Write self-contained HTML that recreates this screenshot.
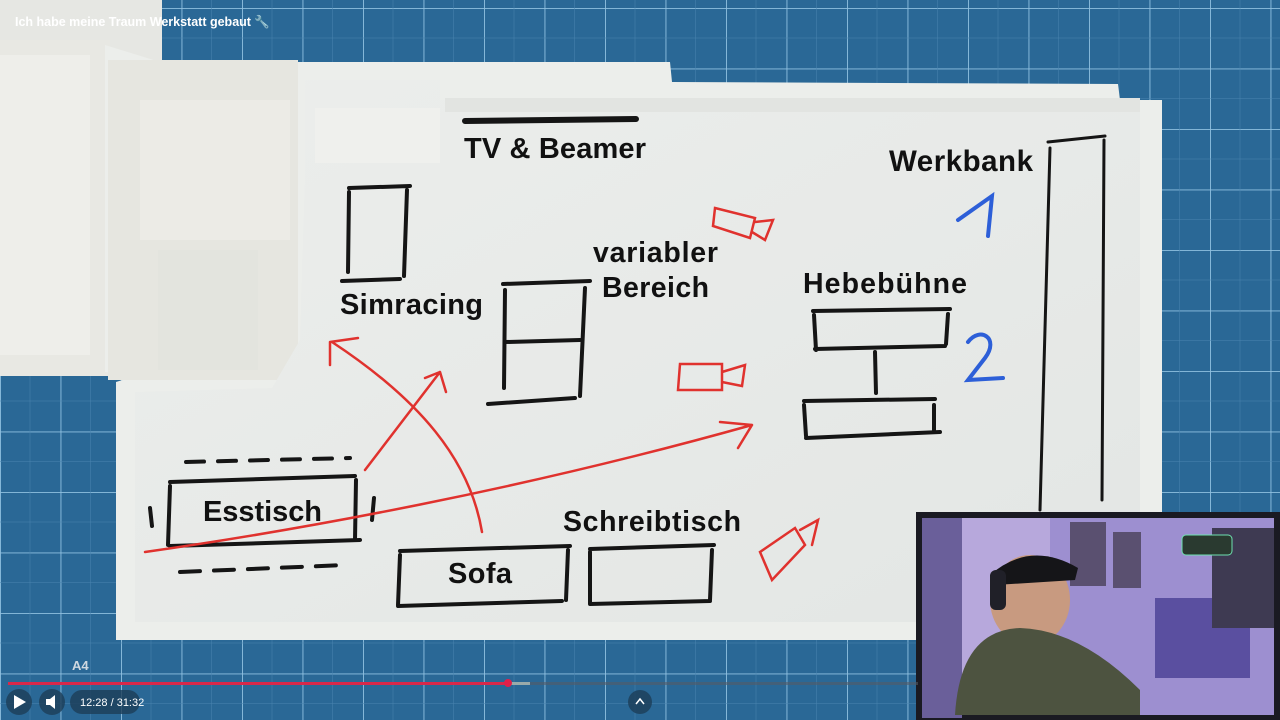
<!DOCTYPE html>
<html><head><meta charset="utf-8"><style>
html,body{margin:0;padding:0;width:1280px;height:720px;overflow:hidden;background:#2b6a98}
svg{display:block}
text{font-family:"Liberation Sans",sans-serif}
</style></head><body>
<svg width="1280" height="720" viewBox="0 0 1280 720" xmlns="http://www.w3.org/2000/svg">
<defs>
<pattern id="g" width="60.5" height="60.5" patternUnits="userSpaceOnUse" x="0" y="8">
<rect width="60.5" height="60.5" fill="#2a6896"/>
<path d="M0 0H60.5M0 0V60.5" stroke="#8fc0e0" stroke-width="1.8"/>
<path d="M30 0V60.5M0 30H60.5" stroke="#4a84b0" stroke-width="0.5"/>
</pattern>
<linearGradient id="fl" x1="0" y1="0" x2="1" y2="1">
<stop offset="0" stop-color="#eceeec"/><stop offset="1" stop-color="#e3e6e4"/>
</linearGradient>
</defs>
<rect width="1280" height="720" fill="url(#g)"/>
<rect x="0" y="0" width="162" height="62" fill="#e6e7e3"/>
<rect x="0" y="40" width="110" height="336" fill="#e8e8e3"/>
<rect x="0" y="55" width="90" height="300" fill="#eeeeea"/>
<polygon points="105,45 160,62 670,62 672,82 1118,84 1120,100 1162,100 1162,520 918,520 918,640 116,640 116,382 135,376 105,372" fill="#eceeeb"/>
<rect x="108" y="60" width="190" height="320" fill="#e6e6e0"/>
<rect x="140" y="100" width="150" height="140" fill="#ecebe6"/>
<rect x="158" y="250" width="100" height="120" fill="#e3e4de"/>
<polygon points="305,80 440,80 440,100 1140,100 1140,515 918,515 918,622 135,622 135,392 272,388 300,340 305,170" fill="url(#fl)"/>
<rect x="315" y="108" width="125" height="55" fill="#eff0ed"/>
<polygon points="445,98 1140,98 1140,112 445,112" fill="#e2e4e1"/>
<g stroke="#151515" stroke-width="4" fill="none" stroke-linecap="round">
<path d="M465 121 L636 119" stroke-width="6"/>
<path d="M349 188 L410 186 M349 192 L348 272 M407 190 L404 276 M342 281 L400 279"/>
<path d="M503 284 L590 281 M505 290 L504 388 M585 288 L580 396 M506 342 L580 340 M488 404 L575 398"/>
<path d="M813 311 L950 309 M814 315 L816 350 M948 314 L946 344 M815 349 L945 346 M875 352 L876 393 M804 401 L935 399 M804 405 L806 436 M934 405 L934 430 M806 438 L940 432"/>
<path d="M1048 142 L1105 136 M1050 148 L1040 510 M1104 140 L1102 500" stroke-width="3"/>
<path d="M186 462 L350 458" stroke-dasharray="18 14"/>
<path d="M170 482 L355 476 M170 486 L168 545 M356 480 L355 540 M170 546 L360 540 M150 508 L152 526 M374 498 L372 520"/>
<path d="M180 572 L345 565" stroke-dasharray="20 14"/>
<path d="M400 551 L570 546 M400 555 L398 605 M568 550 L566 600 M398 606 L562 601"/>
<path d="M590 549 L714 545 M590 552 L590 604 M712 550 L710 600 M590 604 L710 601"/>
</g>
<g stroke="#e0322e" stroke-width="2.5" fill="none" stroke-linecap="round">
<path d="M482 532 C470 460 420 400 332 342 M330 342 L358 338 M330 342 L330 365"/>
<path d="M365 470 L440 372 M440 372 L425 378 M440 372 L446 392"/>
<path d="M145 552 C300 530 520 490 752 425 M752 425 L720 422 M752 425 L738 448"/>
<path d="M715 208 L755 218 L750 238 L713 226 Z M755 222 L773 220 L765 240 L752 232"/>
<path d="M680 364 L722 364 L722 390 L678 390 Z M722 372 L745 365 L742 386 L722 382"/>
<path d="M760 552 L795 528 L805 545 L772 580 Z M800 530 L818 520 L812 545"/>
</g>
<g stroke="#2d5fd8" stroke-width="4" fill="none" stroke-linecap="round">
<path d="M958 220 L992 196 L988 236"/>
<path d="M968 342 C980 326 1000 338 985 358 L968 380 L1003 378"/>
</g>
<g font-weight="bold" fill="#111">
<text x="464" y="158" font-size="29" textLength="182">TV &amp; Beamer</text>
<text x="889" y="171" font-size="29.5" textLength="144">Werkbank</text>
<text x="593" y="262" font-size="28.5" textLength="125">variabler</text>
<text x="602" y="297" font-size="28.5" textLength="107">Bereich</text>
<text x="803" y="293" font-size="28.5" textLength="164">Hebebühne</text>
<text x="340" y="314" font-size="29" textLength="143">Simracing</text>
<text x="203" y="521" font-size="29" textLength="119">Esstisch</text>
<text x="563" y="531" font-size="28.5" textLength="178">Schreibtisch</text>
<text x="448" y="583" font-size="29" textLength="64">Sofa</text>
</g>
<text x="15" y="26" font-size="12.5" fill="#fff" font-weight="bold">Ich habe meine Traum Werkstatt gebaut 🔧</text>
<rect x="916" y="512" width="364" height="208" fill="#1a1a22"/>
<rect x="922" y="518" width="352" height="197" fill="#b7a8dc"/>
<rect x="1050" y="518" width="224" height="197" fill="#9d8fd0"/>
<rect x="922" y="518" width="40" height="200" fill="#6a5f9a"/>
<rect x="1070" y="522" width="36" height="64" fill="#5a5070"/>
<rect x="1113" y="532" width="28" height="56" fill="#5a5070"/>
<rect x="1155" y="598" width="95" height="80" fill="#5a4fa0"/>
<rect x="1212" y="528" width="62" height="100" fill="#3e3a52"/>
<rect x="1182" y="535" width="50" height="20" rx="4" fill="#2a3a30" stroke="#6fe0b0"/>
<ellipse cx="1030" cy="600" rx="40" ry="45" fill="#c89a80"/>
<path d="M990 575 Q1030 540 1078 568 L1075 580 L995 585 Z" fill="#151518"/>
<path d="M955 715 Q960 630 1020 628 Q1080 630 1140 690 L1140 715 Z" fill="#4d5340"/>
<rect x="990" y="570" width="16" height="40" rx="6" fill="#202028"/>
<rect x="8" y="682" width="500" height="3" fill="#d8284a"/>
<rect x="508" y="682" width="22" height="3" fill="#9aa"/>
<rect x="530" y="682" width="388" height="3" fill="#555c66" opacity="0.6"/>
<circle cx="508" cy="683" r="4" fill="#e0204a"/>
<circle cx="19" cy="702" r="13" fill="#1d3d58" opacity="0.8"/>
<path d="M14 695 L26 702 L14 709 Z" fill="#fff"/>
<circle cx="52" cy="702" r="13" fill="#1d3d58" opacity="0.8"/>
<path d="M46 699 H50 L55 695 V709 L50 705 H46 Z" fill="#fff"/>
<rect x="70" y="690" width="70" height="24" rx="12" fill="#1d3d58" opacity="0.8"/>
<text x="80" y="706" font-size="11" fill="#fff">12:28 / 31:32</text>
<circle cx="640" cy="702" r="12" fill="#1d3d58" opacity="0.8"/>
<path d="M636 704 L640 699 L644 704" stroke="#fff" stroke-width="1.5" fill="none"/>
<text x="72" y="670" font-size="13" fill="#cfd8e0" font-weight="bold">A4</text>
</svg>
</body></html>
